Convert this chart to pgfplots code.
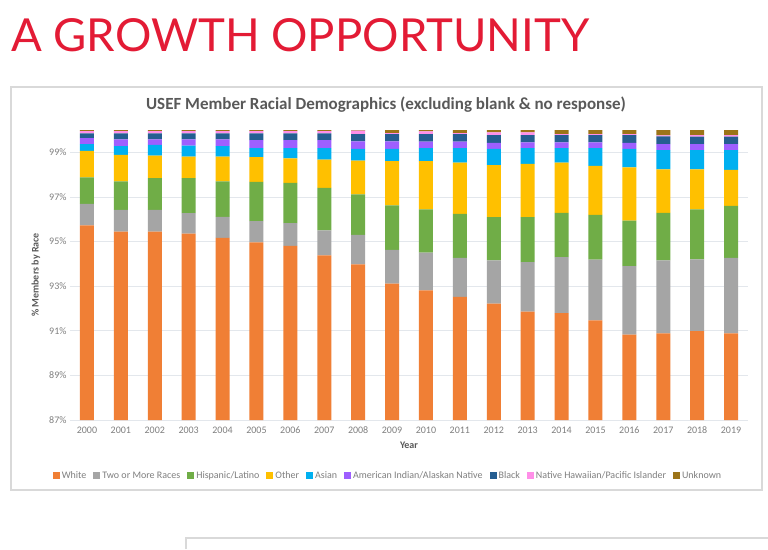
\documentclass[border=0pt]{standalone}
\usepackage{pgfplots}
\usepackage{pgfplotstable}
\pgfplotsset{compat=1.18}
\usepackage{fontspec}
\setmainfont{Carlito}
\newfontfamily\titlefont{Lato}
\definecolor{cWhite}{HTML}{F07F35}
\definecolor{cTwo}{HTML}{A5A5A5}
\definecolor{cHisp}{HTML}{70AD47}
\definecolor{cOther}{HTML}{FFC000}
\definecolor{cAsian}{HTML}{00B0F0}
\definecolor{cAmInd}{HTML}{9E5FFF}
\definecolor{cBlack}{HTML}{255E91}
\definecolor{cNHPI}{HTML}{FF8FE8}
\definecolor{cUnk}{HTML}{9C7418}
\definecolor{txtgrey}{HTML}{595959}
\definecolor{tickgrey}{HTML}{7F7F7F}
\definecolor{gridgrey}{HTML}{E3E7EC}
\definecolor{framegrey}{HTML}{D9D9D9}
\definecolor{titlered}{HTML}{E31B35}
\pgfplotstableread{
X W T H O A I B N U
0 95.72 0.97 1.19 1.19 0.30 0.27 0.21 0.10 0.05
1 95.45 0.97 1.28 1.18 0.40 0.30 0.27 0.10 0.05
2 95.45 0.97 1.42 1.01 0.48 0.25 0.27 0.10 0.05
3 95.35 0.92 1.57 0.97 0.49 0.28 0.27 0.10 0.05
4 95.17 0.94 1.59 1.11 0.47 0.30 0.27 0.10 0.05
5 94.96 0.95 1.76 1.11 0.41 0.36 0.30 0.10 0.05
6 94.81 1.02 1.80 1.10 0.46 0.36 0.30 0.10 0.05
7 94.38 1.12 1.91 1.26 0.52 0.36 0.30 0.10 0.05
8 93.98 1.32 1.81 1.52 0.52 0.34 0.33 0.15 0.03
9 93.11 1.52 1.99 1.98 0.55 0.34 0.33 0.04 0.14
10 92.81 1.69 1.94 2.16 0.59 0.29 0.34 0.12 0.06
11 92.52 1.75 1.97 2.30 0.65 0.29 0.34 0.04 0.14
12 92.22 1.94 1.93 2.34 0.72 0.27 0.35 0.12 0.11
13 91.86 2.22 2.01 2.39 0.71 0.26 0.32 0.12 0.11
14 91.79 2.51 1.99 2.25 0.65 0.26 0.32 0.04 0.19
15 91.47 2.72 2.01 2.19 0.80 0.26 0.32 0.04 0.19
16 90.83 3.07 2.04 2.39 0.82 0.27 0.35 0.04 0.19
17 90.88 3.28 2.13 1.95 0.86 0.27 0.35 0.04 0.24
18 90.98 3.22 2.24 1.80 0.86 0.27 0.33 0.07 0.23
19 90.88 3.39 2.33 1.61 0.89 0.27 0.33 0.07 0.23
}\data
\begin{document}
\begin{tikzpicture}[x=1pt,y=1pt]
\useasboundingbox (0,0) rectangle (768,-549);
\fill[white] (0,0) rectangle (768,-549);
% page title
\node[anchor=base west,inner sep=0pt,text=titlered] at (11,-51)
  {\titlefont\fontsize{45.5}{54}\selectfont A GROWTH OPPORTUNITY};
% chart frame
\draw[framegrey,line width=1.2pt,fill=white] (11,-87) rectangle (762,-490);
% lower box fragment
\draw[framegrey,line width=1.5pt] (186,-549) -- (186,-538) -- (768,-538);
% chart title
\node[anchor=base,inner sep=0pt,text=txtgrey] at (386,-109)
  {\bfseries\fontsize{17}{20}\selectfont USEF Member Racial Demographics (excluding blank \& no response)};
\begin{axis}[
  at={(70pt,-420pt)}, anchor=south west,
  scale only axis, width=678pt, height=290pt,
  xmin=-0.5, xmax=19.5, ymin=87, ymax=100,
  ybar stacked, bar width=14pt,
  axis line style={draw=none},
  tick style={draw=none},
  ymajorgrids, grid style={gridgrey,line width=0.8pt},
  ytick={87,89,91,93,95,97,99},
  yticklabel={\pgfmathprintnumber{\tick}\%},
  xtick={0,...,19},
  xticklabels={2000,2001,2002,2003,2004,2005,2006,2007,2008,2009,2010,2011,2012,2013,2014,2015,2016,2017,2018,2019},
  /pgf/number format/assume math mode=true,
  ticklabel style={text=tickgrey,font=\fontsize{10}{12}\selectfont},
  xticklabel style={yshift=-3pt},
  xlabel={Year},
  xlabel style={text=txtgrey,font=\bfseries\fontsize{10}{12}\selectfont,yshift=-2pt},
  ylabel={\% Members by Race},
  ylabel style={text=txtgrey,font=\bfseries\fontsize{10}{12}\selectfont,yshift=2pt},
  legend columns=-1,
  legend style={at={(0.469,-0.193)},anchor=center,draw=none,fill=none,
    font=\fontsize{10}{12}\selectfont,text=tickgrey,
    /tikz/every even column/.append style={column sep=5pt}},
  legend image code/.code={\fill[#1,draw=none] (0pt,-3.5pt) rectangle (7pt,3.5pt);},
  every axis plot/.append style={draw=none},
]
\addplot[fill=cWhite] table[x=X,y=W]{\data};
\addplot[fill=cTwo] table[x=X,y=T]{\data};
\addplot[fill=cHisp] table[x=X,y=H]{\data};
\addplot[fill=cOther] table[x=X,y=O]{\data};
\addplot[fill=cAsian] table[x=X,y=A]{\data};
\addplot[fill=cAmInd] table[x=X,y=I]{\data};
\addplot[fill=cBlack] table[x=X,y=B]{\data};
\addplot[fill=cNHPI] table[x=X,y=N]{\data};
\addplot[fill=cUnk] table[x=X,y=U]{\data};
\legend{White,Two or More Races,Hispanic/Latino,Other,Asian,American Indian/Alaskan Native,Black,Native Hawaiian/Pacific Islander,Unknown}
\end{axis}
\end{tikzpicture}
\end{document}
